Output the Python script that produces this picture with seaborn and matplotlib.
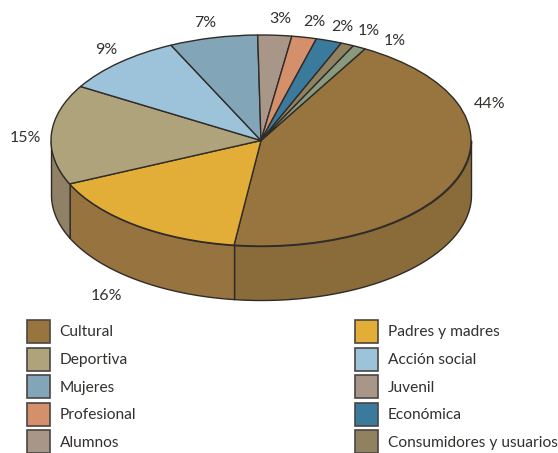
import numpy as np
import matplotlib
matplotlib.use('Agg')
import matplotlib.pyplot as plt
from matplotlib.patches import Patch
import seaborn as sns

# Datos
categorias = ['Cultural', 'Padres y madres', 'Deportiva', 'Acción social', 'Mujeres',
              'Juvenil', 'Profesional', 'Económica', 'Consumidores y usuarios', 'Alumnos']
valores = [43.8, 16.2, 15.3, 9.4, 6.8, 2.6, 1.9, 2.0, 1.0, 1.0]
colores = ['#98743f', '#e3ae37', '#afa37b', '#9cc3da', '#83a5b8',
           '#a89789', '#d4906a', '#3a7a9c', '#908160', '#8a9a7c']
color_alumnos_leyenda = '#a89789'
colores_lado = ['#8a6b3a', '#96733f', '#8f8066']

ley_izq = ['Cultural', 'Deportiva', 'Mujeres', 'Profesional', 'Alumnos']
ley_der = ['Padres y madres', 'Acción social', 'Juvenil', 'Económica', 'Consumidores y usuarios']

sns.set_theme(style='white')
plt.rcParams['font.family'] = ['Lato', 'DejaVu Sans']

W, H = 558, 453
CX, CY, RX, RY = 261, 140.5, 210, 105.5
PROF = 54 / RY
INICIO = 60.3
LINEA = '#2f2b28'
TEXTO = '#33302e'

fig = plt.figure(figsize=(W / 100, H / 100), dpi=100)
ax = fig.add_axes([0, 0, 1, 1])

# Tarta aplastada: circulo unidad escalado a la elipse
ax.pie(valores, colors=colores, startangle=INICIO, counterclock=False, radius=1,
       wedgeprops={'edgecolor': LINEA, 'linewidth': 1.0, 'zorder': 3})
ax.set_aspect('auto')
ax.set_xlim(-CX / RX, (W - CX) / RX)
ax.set_ylim((CY - H) / RY, CY / RY)

# Pared lateral, solo la parte frontal de cada sector
bordes = INICIO - np.cumsum([0] + valores) / sum(valores) * 360
for i, color in enumerate(colores_lado):
    t0 = max(bordes[i + 1], -180)
    t1 = min(bordes[i], 0)
    t = np.radians(np.linspace(t0, t1, 80))
    ax.fill_between(np.cos(t), np.sin(t), np.sin(t) - PROF, facecolor=color,
                    edgecolor=LINEA, linewidth=1.0, zorder=1)

# Etiquetas de porcentaje
pos_etiquetas = [(490, 104), (106, 296), (25, 138), (106, 50), (205, 23),
                 (280, 19), (314, 22), (342, 27), (369, 31), (395, 41)]
for v, (px, py) in zip(valores, pos_etiquetas):
    ax.text((px - CX) / RX, (CY - py) / RY, f'{v:.0f}%', ha='center', va='center',
            fontsize=11.5, color=TEXTO, zorder=5)


def leyenda(nombres, x, y):
    handles = []
    for n in nombres:
        c = color_alumnos_leyenda if n == 'Alumnos' else colores[categorias.index(n)]
        handles.append(Patch(facecolor=c, edgecolor='#4a4642', linewidth=1.2, label=n))
    return ax.legend(handles=handles, loc='upper left', bbox_to_anchor=(x / W, 1 - y / H),
                     bbox_transform=fig.transFigure, frameon=False, fontsize=11.2,
                     borderpad=0, borderaxespad=0, handlelength=1.48, handleheight=1.9,
                     handletextpad=0.62, labelspacing=0.295, labelcolor=TEXTO)


ax.add_artist(leyenda(ley_izq, 27, 320))
leyenda(ley_der, 355, 320)

sns.despine(ax=ax, left=True, bottom=True)
fig.savefig('out.png', dpi=100, facecolor='white')
